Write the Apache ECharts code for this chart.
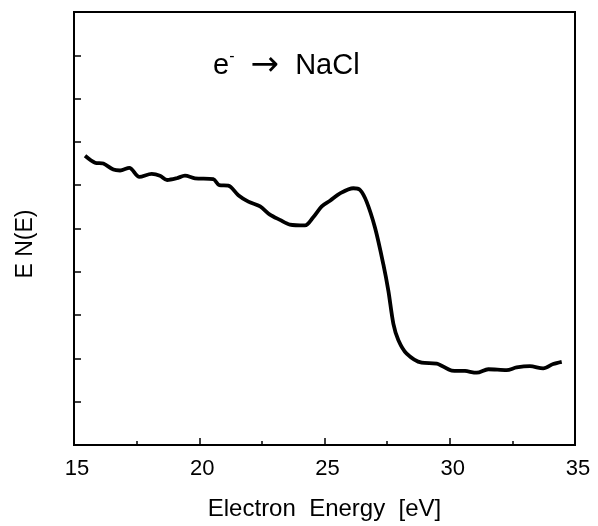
<!DOCTYPE html>
<html><head><meta charset="utf-8">
<script src="https://cdn.jsdelivr.net/npm/echarts/dist/echarts.min.js"></script>
<style>html,body{margin:0;padding:0;background:#fff}#c{width:598px;height:526px}</style>
</head><body><div id="c"></div>
<script>
const energy = [15.44,15.84,16.17,16.57,16.84,17.21,17.61,18.10,18.43,18.72,19.10,19.43,19.83,20.56,20.80,21.16,21.56,21.96,22.43,22.82,23.22,23.62,24.22,24.55,24.89,25.22,25.62,26.15,26.42,26.68,27.02,27.35,27.55,27.75,27.95,28.28,28.88,29.48,30.08,30.61,31.08,31.54,32.27,32.67,33.20,33.73,34.13,34.47];
const intensity = [6.68,6.52,6.50,6.36,6.34,6.40,6.19,6.26,6.22,6.12,6.16,6.22,6.16,6.14,6.00,5.99,5.77,5.62,5.51,5.32,5.20,5.09,5.07,5.26,5.51,5.64,5.81,5.93,5.89,5.62,5.01,4.17,3.56,2.80,2.42,2.11,1.90,1.88,1.72,1.71,1.67,1.75,1.73,1.79,1.82,1.77,1.87,1.92];
const xTickValues = [15,20,25,30,35];
const xTitle = 'Electron  Energy  [eV]';
const yTitle = 'E N(E)';
const annotation = '{e|e}{s|-}  {a|\u2192}  NaCl';

const chart = echarts.init(document.getElementById('c'), null, {renderer:'canvas'});
const font = 'Liberation Sans, Arial, Helvetica, sans-serif';
chart.setOption({
  animation:false,
  backgroundColor:'#fff',
  grid:{left:74, top:12, right:23, bottom:77, show:true, borderColor:'#000', borderWidth:2},
  xAxis:{type:'value', min:xTickValues[0], max:xTickValues[xTickValues.length-1], interval:5,
    axisLine:{lineStyle:{color:'#000', width:2}},
    axisTick:{inside:true, length:7, lineStyle:{color:'#000', width:1.5}},
    minorTick:{show:true, splitNumber:2, length:4, lineStyle:{color:'#000', width:1.5}},
    splitLine:{show:false},
    axisLabel:{fontSize:22, color:'#000', margin:13, fontFamily:font, padding:[0,0,0,6]},
    name:xTitle, nameLocation:'middle', nameGap:52,
    nameTextStyle:{fontSize:24, color:'#000', fontFamily:font}},
  yAxis:{type:'value', min:0, max:10, interval:1,
    axisLine:{lineStyle:{color:'#000', width:2}},
    axisTick:{inside:true, length:7, lineStyle:{color:'#000', width:1.5}},
    axisLabel:{show:false}, splitLine:{show:false}},
  series:[{type:'line', data:energy.map((e,i)=>[e,intensity[i]]), showSymbol:false, smooth:0.3,
    lineStyle:{color:'#000', width:3.8}}],
  graphic:[
    {type:'text', x:26, y:244, rotation:Math.PI/2,
      style:{text:yTitle, fontSize:23, fill:'#000', fontFamily:font, align:'center', verticalAlign:'middle'}},
    {type:'text', x:213, y:66,
      style:{text:annotation, fill:'#000', fontFamily:font, align:'left', verticalAlign:'middle',
        rich:{e:{fontSize:29, fontFamily:font, fill:'#000'},
              s:{fontSize:16, fontFamily:font, fill:'#000', verticalAlign:'top', padding:[0,0,14,0]},
              a:{fontSize:34, fontFamily:'DejaVu Sans, sans-serif', fill:'#000'}},
        fontSize:29}}
  ]
});
</script></body></html>
